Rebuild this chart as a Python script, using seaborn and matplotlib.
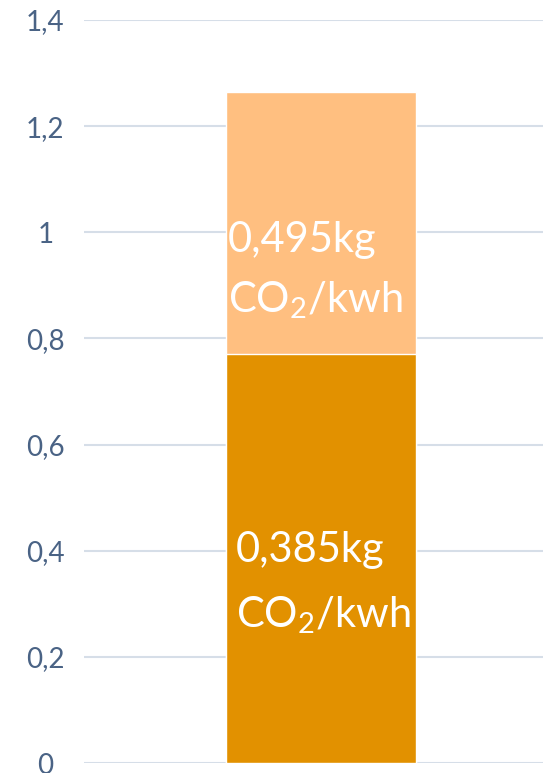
import matplotlib
matplotlib.use("Agg")
import matplotlib.pyplot as plt
import seaborn as sns
import pandas as pd

categories = ["CO2"]
bottom_values = [0.77]
top_values = [0.495]
bottom_label = ["0,385kg", "CO$_2$/kwh"]
top_label = ["0,495kg", "CO$_2$/kwh"]
yticks = [0, 0.2, 0.4, 0.6, 0.8, 1.0, 1.2, 1.4]
ytick_labels = ["0", "0,2", "0,4", "0,6", "0,8", "1", "1,2", "1,4"]

sns.set_theme(style="white")
plt.rcParams["font.family"] = ["Lato", "DejaVu Sans"]
plt.rcParams["mathtext.fontset"] = "custom"
plt.rcParams["mathtext.rm"] = "Lato"
plt.rcParams["mathtext.it"] = "Lato"

fig = plt.figure(figsize=(5.43, 7.73), dpi=100)
ax = fig.add_axes([0.155, 0.0129, 0.845, 0.9612])

df = pd.DataFrame({"cat": categories,
                   "total": [b + t for b, t in zip(bottom_values, top_values)],
                   "bottom": bottom_values})
sns.barplot(data=df, x="cat", y="total", color="#FFBF80", saturation=1, width=0.414, ax=ax, zorder=3)
sns.barplot(data=df, x="cat", y="bottom", color="#E29100", saturation=1, width=0.414, ax=ax, zorder=3)

ax.set_xlim(-0.516, 0.484)
ax.set_ylim(0, 1.4)
ax.set_yticks(yticks)
ax.set_yticklabels(ytick_labels)
ax.tick_params(axis="y", length=0, pad=28, labelsize=20, labelcolor="#4A6385")
ax.set_xticks([])
ax.set_xlabel("")
ax.set_ylabel("")
for s in ax.spines.values():
    s.set_visible(False)
ax.yaxis.grid(True, color="#D6DEE8", linewidth=1.5, zorder=0)
ax.set_axisbelow(True)
for lbl in ax.get_yticklabels():
    lbl.set_horizontalalignment("center")

ax.text(-0.202, 0.985, top_label[0], color="white", fontsize=30, va="center", ha="left", zorder=5)
ax.text(-0.202, 0.872, top_label[1], color="white", fontsize=30, va="center", ha="left", zorder=5)
ax.text(-0.185, 0.401, bottom_label[0], color="white", fontsize=30, va="center", ha="left", zorder=5)
ax.text(-0.185, 0.279, bottom_label[1], color="white", fontsize=30, va="center", ha="left", zorder=5)

fig.savefig("out.png", dpi=100)
